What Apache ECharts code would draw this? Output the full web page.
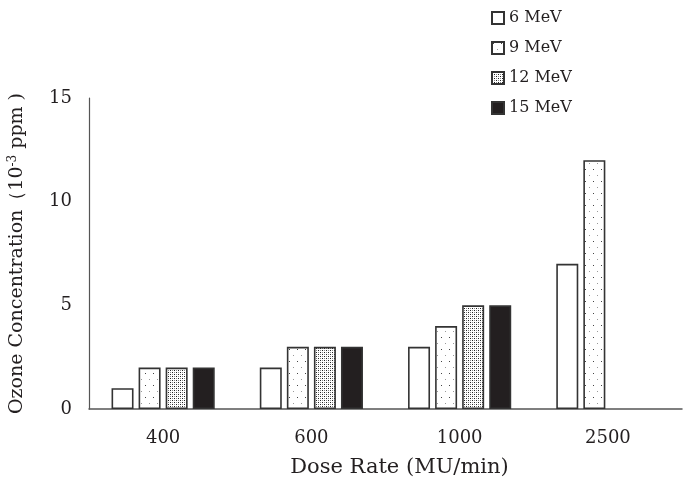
<!DOCTYPE html>
<html><head><meta charset="utf-8">
<script src="https://cdn.jsdelivr.net/npm/echarts@6/dist/echarts.min.js"></script>
<style>html,body{margin:0;padding:0;background:#fff}#c{width:685px;height:485px}</style>
</head><body><div id="c"></div>
<script>
const categories = ['400', '600', '1000', '2500'];
const seriesNames = ['6 MeV', '9 MeV', '12 MeV', '15 MeV'];
const mev6 = [1, 2, 3, 7];
const mev9 = [2, 3, 4, 12];
const mev12 = [2, 3, 5, null];
const mev15 = [2, 3, 5, null];
const yTicks = [0, 5, 10, 15];

function pattern(kind) {
  const c = document.createElement('canvas');
  const ctx = c.getContext('2d');
  if (kind === 'sparse') {
    c.width = 8; c.height = 12;
    ctx.fillStyle = '#fff'; ctx.fillRect(0, 0, 8, 12);
    ctx.fillStyle = '#444';
    ctx.fillRect(1, 1, 1, 1);
    ctx.fillStyle = '#999';
    ctx.fillRect(5, 7, 1, 1);
  } else {
    c.width = 4; c.height = 4;
    ctx.fillStyle = '#fff'; ctx.fillRect(0, 0, 4, 4);
    ctx.fillStyle = '#222';
    ctx.fillRect(0, 0, 1, 1);
    ctx.fillRect(2, 2, 1, 1);
    ctx.fillStyle = '#888';
    ctx.fillRect(2, 0, 1, 1);
    ctx.fillRect(0, 2, 1, 1);
  }
  return { image: c, repeat: 'repeat' };
}

const serif = '"DejaVu Serif", "Liberation Serif", serif';
const fills = ['#ffffff', pattern('sparse'), pattern('dense'), '#231f20'];
const data = [mev6, mev9, mev12, mev15];

const chart = echarts.init(document.getElementById('c'), null, { renderer: 'canvas' });
chart.setOption({
  animation: false,
  backgroundColor: '#fff',
  legend: {
    orient: 'vertical', left: 486, top: 4, itemGap: 12,
    itemWidth: 12, itemHeight: 12, icon: 'rect',
    data: seriesNames,
    textStyle: { fontFamily: serif, fontSize: 16, color: '#231f20', lineHeight: 18 }
  },
  grid: { left: 89, right: 3, top: 98, bottom: 76, containLabel: false, outerBoundsMode: 'none' },
  xAxis: {
    type: 'category', data: categories,
    axisLine: { lineStyle: { color: '#555', width: 1.5 } },
    axisTick: { show: false },
    axisLabel: { fontFamily: serif, fontSize: 18, color: '#231f20', margin: 20 },
    name: 'Dose Rate (MU/min)', nameLocation: 'middle', nameGap: 48,
    nameTextStyle: { fontFamily: serif, fontSize: 21, color: '#231f20', padding: [0, 0, 0, 28] }
  },
  yAxis: {
    type: 'value', min: 0, max: 15, interval: 5,
    splitLine: { show: false },
    axisLine: { show: true, lineStyle: { color: '#555', width: 1.2 } },
    axisTick: { show: false },
    axisLabel: { fontFamily: serif, fontSize: 18, color: '#231f20', margin: 17,
      formatter: v => yTicks.includes(v) ? String(v) : '' },
    name: '{n|Ozone Concentration（10}{s|-3}{n| ppm )}',
    nameLocation: 'middle', nameGap: 62,
    nameTextStyle: {
      rich: {
        n: { fontFamily: serif, fontSize: 19, color: '#231f20' },
        s: { fontFamily: serif, fontSize: 12, color: '#231f20', verticalAlign: 'top', padding: [0, 0, 8, 0] }
      }
    }
  },
  series: seriesNames.map((n, i) => ({
    name: n, type: 'bar', data: data[i],
    barWidth: 22, barGap: '23%', barCategoryGap: '30%',
    itemStyle: { color: fills[i], borderColor: '#333', borderWidth: 1.6 }
  }))
});
</script></body></html>
